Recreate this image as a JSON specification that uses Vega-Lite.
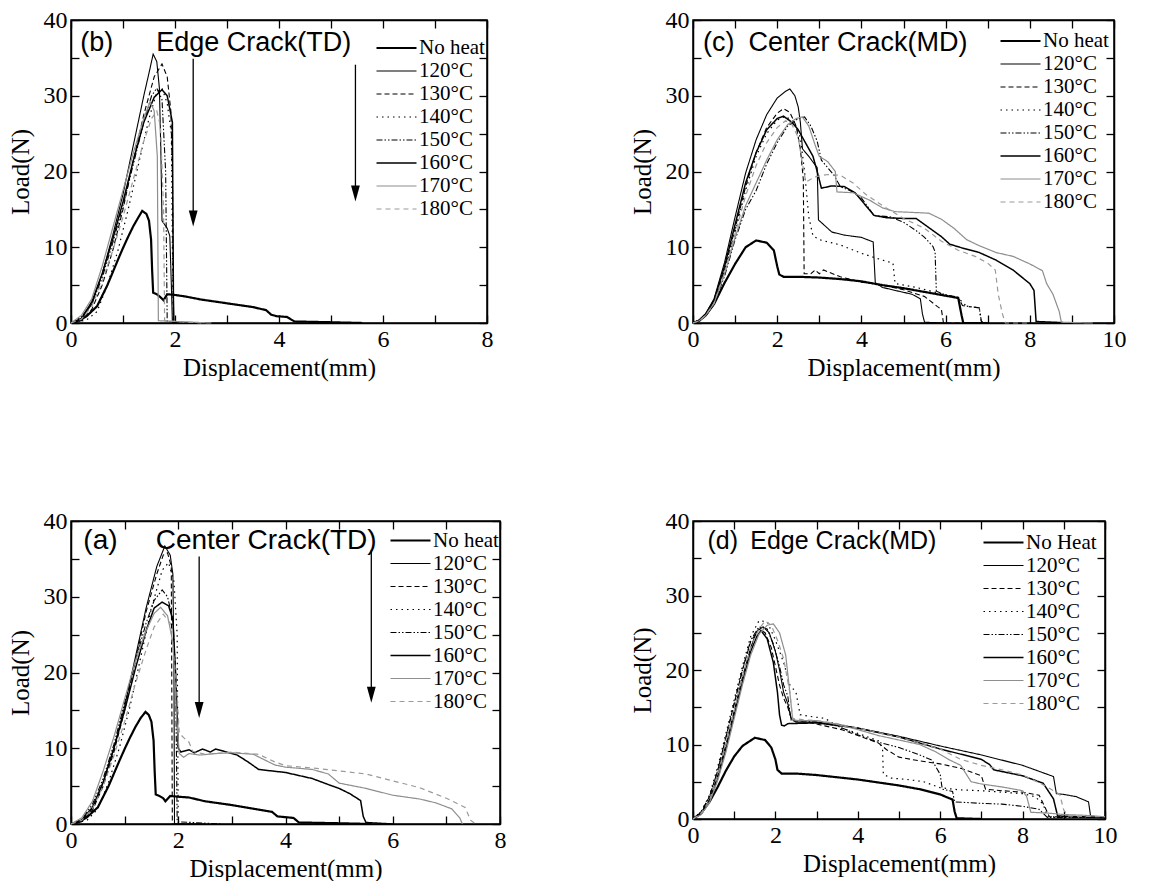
{
"$schema": "https://vega.github.io/schema/vega-lite/v6.json",
"padding": {"left": 7, "top": 7, "right": 5, "bottom": 5},
"background": "white",
"config": {
 "view": {"stroke": "black", "strokeWidth": 1.5},
 "axis": {"grid": false, "domainColor": "black", "domainWidth": 1.5, "tickColor": "black", "tickWidth": 1.3, "tickSize": -8, "labelFont": "Liberation Serif", "labelFontSize": 24, "labelColor": "black", "labelPadding": 12, "labelFlush": false, "labelOverlap": false, "titleFont": "Liberation Serif", "titleFontSize": 25, "titleFontWeight": "normal", "titleColor": "black"},
 "axisX": {"titlePadding": 4},
 "axisY": {"titlePadding": 10},
 "legend": {"orient": "none", "title": null, "symbolType": "stroke", "symbolSize": 1600, "clipHeight": 21, "labelFont": "Liberation Serif", "labelFontSize": 21, "labelColor": "black", "labelOffset": 1, "rowPadding": 1, "padding": 0}
},
"datasets": {
 "b": [
  {"s":"No heat","x":0,"y":0},{"s":"No heat","x":0.15,"y":0.3},{"s":"No heat","x":0.3,"y":0.9},{"s":"No heat","x":0.5,"y":2.2},{"s":"No heat","x":0.7,"y":5},{"s":"No heat","x":0.9,"y":8.3},{"s":"No heat","x":1.0,"y":9.9},{"s":"No heat","x":1.1,"y":11.4},{"s":"No heat","x":1.2,"y":12.8},{"s":"No heat","x":1.3,"y":14},{"s":"No heat","x":1.37,"y":14.8},{"s":"No heat","x":1.45,"y":14.4},{"s":"No heat","x":1.5,"y":13.5},{"s":"No heat","x":1.54,"y":11},{"s":"No heat","x":1.56,"y":7},{"s":"No heat","x":1.58,"y":4},{"s":"No heat","x":1.65,"y":3.8},{"s":"No heat","x":1.72,"y":3.4},{"s":"No heat","x":1.78,"y":3.0},{"s":"No heat","x":1.85,"y":3.8},{"s":"No heat","x":2.0,"y":3.7},{"s":"No heat","x":2.2,"y":3.5},{"s":"No heat","x":2.5,"y":3.1},{"s":"No heat","x":3.0,"y":2.6},{"s":"No heat","x":3.5,"y":2.1},{"s":"No heat","x":3.75,"y":1.7},{"s":"No heat","x":3.85,"y":1.1},{"s":"No heat","x":3.95,"y":0.9},{"s":"No heat","x":4.15,"y":0.8},{"s":"No heat","x":4.3,"y":0.2},{"s":"No heat","x":5.0,"y":0.1},{"s":"No heat","x":5.6,"y":0},
  {"s":"120°C","x":0,"y":0},{"s":"120°C","x":0.2,"y":0.5},{"s":"120°C","x":0.4,"y":2.5},{"s":"120°C","x":0.6,"y":6.5},{"s":"120°C","x":0.8,"y":11.5},{"s":"120°C","x":1.0,"y":17},{"s":"120°C","x":1.2,"y":23.5},{"s":"120°C","x":1.4,"y":30},{"s":"120°C","x":1.5,"y":33},{"s":"120°C","x":1.58,"y":35.5},{"s":"120°C","x":1.65,"y":34.5},{"s":"120°C","x":1.7,"y":31},{"s":"120°C","x":1.73,"y":22},{"s":"120°C","x":1.75,"y":13.5},{"s":"120°C","x":1.85,"y":12.5},{"s":"120°C","x":1.9,"y":11.5},{"s":"120°C","x":1.93,"y":5},{"s":"120°C","x":1.95,"y":0},{"s":"120°C","x":2.5,"y":0},
  {"s":"130°C","x":0,"y":0},{"s":"130°C","x":0.2,"y":0.3},{"s":"130°C","x":0.4,"y":1.8},{"s":"130°C","x":0.6,"y":5},{"s":"130°C","x":0.8,"y":9.5},{"s":"130°C","x":1.0,"y":15},{"s":"130°C","x":1.2,"y":21.5},{"s":"130°C","x":1.4,"y":27.5},{"s":"130°C","x":1.6,"y":32.5},{"s":"130°C","x":1.75,"y":34.2},{"s":"130°C","x":1.85,"y":32.5},{"s":"130°C","x":1.92,"y":28},{"s":"130°C","x":1.95,"y":20},{"s":"130°C","x":1.97,"y":0},{"s":"130°C","x":2.6,"y":0},
  {"s":"140°C","x":0,"y":0},{"s":"140°C","x":0.3,"y":0.4},{"s":"140°C","x":0.5,"y":1.5},{"s":"140°C","x":0.7,"y":5},{"s":"140°C","x":0.9,"y":9.5},{"s":"140°C","x":1.1,"y":15},{"s":"140°C","x":1.3,"y":21},{"s":"140°C","x":1.5,"y":27},{"s":"140°C","x":1.65,"y":30.5},{"s":"140°C","x":1.75,"y":31},{"s":"140°C","x":1.85,"y":29},{"s":"140°C","x":1.93,"y":25},{"s":"140°C","x":1.95,"y":10},{"s":"140°C","x":1.97,"y":0},
  {"s":"150°C","x":0,"y":0},{"s":"150°C","x":0.2,"y":0.8},{"s":"150°C","x":0.4,"y":2.5},{"s":"150°C","x":0.6,"y":6},{"s":"150°C","x":0.8,"y":10.5},{"s":"150°C","x":1.0,"y":15.5},{"s":"150°C","x":1.2,"y":21},{"s":"150°C","x":1.4,"y":26.5},{"s":"150°C","x":1.55,"y":30},{"s":"150°C","x":1.65,"y":31},{"s":"150°C","x":1.75,"y":29.5},{"s":"150°C","x":1.82,"y":20},{"s":"150°C","x":1.85,"y":0.2},{"s":"150°C","x":2.2,"y":0},
  {"s":"160°C","x":0,"y":0},{"s":"160°C","x":0.2,"y":0.6},{"s":"160°C","x":0.4,"y":2.8},{"s":"160°C","x":0.6,"y":6.5},{"s":"160°C","x":0.8,"y":11},{"s":"160°C","x":1.0,"y":16},{"s":"160°C","x":1.2,"y":21.5},{"s":"160°C","x":1.4,"y":26.5},{"s":"160°C","x":1.6,"y":29.8},{"s":"160°C","x":1.75,"y":30.8},{"s":"160°C","x":1.85,"y":30},{"s":"160°C","x":1.95,"y":26.5},{"s":"160°C","x":1.97,"y":3},{"s":"160°C","x":1.98,"y":0},
  {"s":"170°C","x":0,"y":0},{"s":"170°C","x":0.2,"y":1},{"s":"170°C","x":0.4,"y":3.2},{"s":"170°C","x":0.6,"y":7.5},{"s":"170°C","x":0.8,"y":12.5},{"s":"170°C","x":1.0,"y":17.5},{"s":"170°C","x":1.2,"y":22.5},{"s":"170°C","x":1.4,"y":27},{"s":"170°C","x":1.52,"y":29.2},{"s":"170°C","x":1.6,"y":28},{"s":"170°C","x":1.66,"y":22},{"s":"170°C","x":1.68,"y":0.3},{"s":"170°C","x":2.7,"y":0},
  {"s":"180°C","x":0,"y":0},{"s":"180°C","x":0.2,"y":0.5},{"s":"180°C","x":0.4,"y":2.2},{"s":"180°C","x":0.6,"y":5.5},{"s":"180°C","x":0.8,"y":9.5},{"s":"180°C","x":1.0,"y":14},{"s":"180°C","x":1.2,"y":19},{"s":"180°C","x":1.4,"y":24},{"s":"180°C","x":1.55,"y":27},{"s":"180°C","x":1.65,"y":28},{"s":"180°C","x":1.72,"y":26},{"s":"180°C","x":1.78,"y":15},{"s":"180°C","x":1.8,"y":0.3},{"s":"180°C","x":2.5,"y":0}
 ],
 "c": [
  {"s":"No heat","x":0,"y":0},{"s":"No heat","x":0.15,"y":0.3},{"s":"No heat","x":0.3,"y":1},{"s":"No heat","x":0.5,"y":2.5},{"s":"No heat","x":0.75,"y":5.3},{"s":"No heat","x":1.0,"y":7.8},{"s":"No heat","x":1.25,"y":10},{"s":"No heat","x":1.5,"y":10.9},{"s":"No heat","x":1.75,"y":10.6},{"s":"No heat","x":1.92,"y":9.6},{"s":"No heat","x":2.0,"y":7.5},{"s":"No heat","x":2.05,"y":6.4},{"s":"No heat","x":2.15,"y":6.1},{"s":"No heat","x":2.5,"y":6.1},{"s":"No heat","x":3.0,"y":6.0},{"s":"No heat","x":3.5,"y":5.8},{"s":"No heat","x":4.0,"y":5.5},{"s":"No heat","x":4.5,"y":5.0},{"s":"No heat","x":5.0,"y":4.6},{"s":"No heat","x":5.5,"y":4.1},{"s":"No heat","x":6.0,"y":3.6},{"s":"No heat","x":6.3,"y":3.3},{"s":"No heat","x":6.38,"y":1},{"s":"No heat","x":6.42,"y":0},{"s":"No heat","x":7.0,"y":0},
  {"s":"120°C","x":0,"y":0},{"s":"120°C","x":0.15,"y":0.4},{"s":"120°C","x":0.3,"y":1.2},{"s":"120°C","x":0.5,"y":3.2},{"s":"120°C","x":0.75,"y":8},{"s":"120°C","x":1.0,"y":14},{"s":"120°C","x":1.25,"y":19.8},{"s":"120°C","x":1.5,"y":24.2},{"s":"120°C","x":1.75,"y":27.5},{"s":"120°C","x":2.0,"y":29.7},{"s":"120°C","x":2.2,"y":30.6},{"s":"120°C","x":2.3,"y":30.9},{"s":"120°C","x":2.42,"y":30},{"s":"120°C","x":2.5,"y":28.5},{"s":"120°C","x":2.55,"y":26.5},{"s":"120°C","x":2.6,"y":23},{"s":"120°C","x":2.75,"y":22},{"s":"120°C","x":2.95,"y":20.5},{"s":"120°C","x":2.98,"y":13.6},{"s":"120°C","x":3.1,"y":13},{"s":"120°C","x":3.3,"y":12},{"s":"120°C","x":3.6,"y":11.6},{"s":"120°C","x":4.0,"y":11.3},{"s":"120°C","x":4.28,"y":10.7},{"s":"120°C","x":4.33,"y":5.3},{"s":"120°C","x":4.5,"y":4.7},{"s":"120°C","x":4.8,"y":4.3},{"s":"120°C","x":5.2,"y":3.8},{"s":"120°C","x":5.4,"y":3.2},{"s":"120°C","x":5.45,"y":1.2},{"s":"120°C","x":5.5,"y":0.1},{"s":"120°C","x":6.0,"y":0},
  {"s":"130°C","x":0,"y":0},{"s":"130°C","x":0.15,"y":0.3},{"s":"130°C","x":0.3,"y":1},{"s":"130°C","x":0.5,"y":2.8},{"s":"130°C","x":0.75,"y":7},{"s":"130°C","x":1.0,"y":12.5},{"s":"130°C","x":1.25,"y":18},{"s":"130°C","x":1.5,"y":22.5},{"s":"130°C","x":1.75,"y":25.8},{"s":"130°C","x":2.0,"y":27.7},{"s":"130°C","x":2.15,"y":28.3},{"s":"130°C","x":2.3,"y":27.8},{"s":"130°C","x":2.45,"y":26},{"s":"130°C","x":2.55,"y":23},{"s":"130°C","x":2.62,"y":19},{"s":"130°C","x":2.64,"y":6.5},{"s":"130°C","x":2.8,"y":6.5},{"s":"130°C","x":2.9,"y":7},{"s":"130°C","x":3.0,"y":6.5},{"s":"130°C","x":3.1,"y":7},{"s":"130°C","x":3.5,"y":6.1},{"s":"130°C","x":4.0,"y":5.4},{"s":"130°C","x":4.5,"y":5.0},{"s":"130°C","x":5.0,"y":4.4},{"s":"130°C","x":5.5,"y":3.5},{"s":"130°C","x":5.8,"y":2.2},{"s":"130°C","x":5.9,"y":1.8},{"s":"130°C","x":5.95,"y":0},{"s":"130°C","x":6.5,"y":0},
  {"s":"140°C","x":0,"y":0},{"s":"140°C","x":0.15,"y":0.3},{"s":"140°C","x":0.3,"y":1},{"s":"140°C","x":0.5,"y":2.7},{"s":"140°C","x":0.75,"y":6.8},{"s":"140°C","x":1.0,"y":12},{"s":"140°C","x":1.25,"y":17.5},{"s":"140°C","x":1.5,"y":22},{"s":"140°C","x":1.75,"y":25},{"s":"140°C","x":2.0,"y":26.8},{"s":"140°C","x":2.2,"y":27.3},{"s":"140°C","x":2.4,"y":26.5},{"s":"140°C","x":2.55,"y":24.5},{"s":"140°C","x":2.65,"y":20},{"s":"140°C","x":2.75,"y":14},{"s":"140°C","x":2.85,"y":11.5},{"s":"140°C","x":3.0,"y":11},{"s":"140°C","x":3.5,"y":10.3},{"s":"140°C","x":4.0,"y":9.2},{"s":"140°C","x":4.5,"y":8.3},{"s":"140°C","x":4.75,"y":7.9},{"s":"140°C","x":4.8,"y":5.2},{"s":"140°C","x":5.3,"y":4.7},{"s":"140°C","x":5.8,"y":4.0},{"s":"140°C","x":6.3,"y":3.3},{"s":"140°C","x":6.5,"y":2.2},{"s":"140°C","x":6.8,"y":2.0},{"s":"140°C","x":6.85,"y":0},{"s":"140°C","x":7.0,"y":0},
  {"s":"150°C","x":0,"y":0},{"s":"150°C","x":0.15,"y":0.3},{"s":"150°C","x":0.3,"y":0.9},{"s":"150°C","x":0.5,"y":2.5},{"s":"150°C","x":0.75,"y":6.2},{"s":"150°C","x":1.0,"y":11},{"s":"150°C","x":1.25,"y":15},{"s":"150°C","x":1.5,"y":17.5},{"s":"150°C","x":1.75,"y":21},{"s":"150°C","x":2.0,"y":23.8},{"s":"150°C","x":2.25,"y":26},{"s":"150°C","x":2.5,"y":27},{"s":"150°C","x":2.65,"y":27.2},{"s":"150°C","x":2.8,"y":26},{"s":"150°C","x":2.95,"y":24},{"s":"150°C","x":3.05,"y":21.5},{"s":"150°C","x":3.2,"y":20.5},{"s":"150°C","x":3.35,"y":19.5},{"s":"150°C","x":3.5,"y":18},{"s":"150°C","x":3.8,"y":17.3},{"s":"150°C","x":4.0,"y":16.5},{"s":"150°C","x":4.3,"y":14.2},{"s":"150°C","x":4.7,"y":14.0},{"s":"150°C","x":5.0,"y":13.3},{"s":"150°C","x":5.3,"y":12.2},{"s":"150°C","x":5.5,"y":11.3},{"s":"150°C","x":5.7,"y":10.1},{"s":"150°C","x":5.75,"y":9.4},{"s":"150°C","x":5.78,"y":4.2},{"s":"150°C","x":6.0,"y":3.7},{"s":"150°C","x":6.3,"y":3.4},{"s":"150°C","x":6.4,"y":2.3},{"s":"150°C","x":6.8,"y":2.0},{"s":"150°C","x":6.85,"y":0.2},{"s":"150°C","x":7.0,"y":0},
  {"s":"160°C","x":0,"y":0},{"s":"160°C","x":0.15,"y":0.4},{"s":"160°C","x":0.3,"y":1.2},{"s":"160°C","x":0.5,"y":3},{"s":"160°C","x":0.75,"y":7.5},{"s":"160°C","x":1.0,"y":13},{"s":"160°C","x":1.25,"y":18.5},{"s":"160°C","x":1.5,"y":22.5},{"s":"160°C","x":1.75,"y":25.5},{"s":"160°C","x":2.0,"y":27},{"s":"160°C","x":2.15,"y":27.3},{"s":"160°C","x":2.35,"y":26.5},{"s":"160°C","x":2.5,"y":25.5},{"s":"160°C","x":2.7,"y":23.5},{"s":"160°C","x":2.85,"y":22},{"s":"160°C","x":2.95,"y":20},{"s":"160°C","x":3.05,"y":17.8},{"s":"160°C","x":3.3,"y":18.1},{"s":"160°C","x":3.6,"y":18},{"s":"160°C","x":3.85,"y":17.2},{"s":"160°C","x":4.0,"y":16.2},{"s":"160°C","x":4.3,"y":14.2},{"s":"160°C","x":4.6,"y":13.9},{"s":"160°C","x":5.0,"y":13.8},{"s":"160°C","x":5.3,"y":13.8},{"s":"160°C","x":5.6,"y":12.6},{"s":"160°C","x":5.9,"y":11.4},{"s":"160°C","x":6.1,"y":10.4},{"s":"160°C","x":6.4,"y":9.9},{"s":"160°C","x":6.8,"y":9.3},{"s":"160°C","x":7.2,"y":8.3},{"s":"160°C","x":7.6,"y":7.0},{"s":"160°C","x":8.0,"y":5.2},{"s":"160°C","x":8.1,"y":4.3},{"s":"160°C","x":8.15,"y":0.2},{"s":"160°C","x":9.0,"y":0},
  {"s":"170°C","x":0,"y":0},{"s":"170°C","x":0.15,"y":0.3},{"s":"170°C","x":0.3,"y":1},{"s":"170°C","x":0.5,"y":2.6},{"s":"170°C","x":0.75,"y":6.5},{"s":"170°C","x":1.0,"y":11.3},{"s":"170°C","x":1.25,"y":15.5},{"s":"170°C","x":1.5,"y":18.5},{"s":"170°C","x":1.75,"y":21.5},{"s":"170°C","x":2.0,"y":24.2},{"s":"170°C","x":2.25,"y":26.2},{"s":"170°C","x":2.45,"y":27},{"s":"170°C","x":2.6,"y":27.2},{"s":"170°C","x":2.75,"y":26},{"s":"170°C","x":2.9,"y":23.5},{"s":"170°C","x":3.0,"y":22},{"s":"170°C","x":3.2,"y":21.3},{"s":"170°C","x":3.38,"y":20},{"s":"170°C","x":3.42,"y":17.3},{"s":"170°C","x":3.8,"y":17.2},{"s":"170°C","x":4.2,"y":16.2},{"s":"170°C","x":4.5,"y":15.2},{"s":"170°C","x":4.8,"y":14.7},{"s":"170°C","x":5.2,"y":14.6},{"s":"170°C","x":5.6,"y":14.5},{"s":"170°C","x":5.9,"y":13.7},{"s":"170°C","x":6.2,"y":12.5},{"s":"170°C","x":6.5,"y":11},{"s":"170°C","x":6.8,"y":10.2},{"s":"170°C","x":7.2,"y":9.3},{"s":"170°C","x":7.6,"y":8.8},{"s":"170°C","x":8.0,"y":7.8},{"s":"170°C","x":8.3,"y":6.9},{"s":"170°C","x":8.4,"y":5.2},{"s":"170°C","x":8.55,"y":3.8},{"s":"170°C","x":8.7,"y":1.5},{"s":"170°C","x":8.75,"y":0.1},{"s":"170°C","x":9.5,"y":0},
  {"s":"180°C","x":0,"y":0},{"s":"180°C","x":0.15,"y":0.3},{"s":"180°C","x":0.3,"y":1},{"s":"180°C","x":0.5,"y":2.6},{"s":"180°C","x":0.75,"y":6.6},{"s":"180°C","x":1.0,"y":11.8},{"s":"180°C","x":1.25,"y":16.8},{"s":"180°C","x":1.5,"y":20.8},{"s":"180°C","x":1.75,"y":23.8},{"s":"180°C","x":2.0,"y":25.8},{"s":"180°C","x":2.2,"y":26.7},{"s":"180°C","x":2.35,"y":26.2},{"s":"180°C","x":2.5,"y":24.5},{"s":"180°C","x":2.6,"y":21},{"s":"180°C","x":2.68,"y":18.6},{"s":"180°C","x":2.9,"y":19.3},{"s":"180°C","x":3.2,"y":19.6},{"s":"180°C","x":3.5,"y":19.5},{"s":"180°C","x":3.8,"y":18.5},{"s":"180°C","x":4.1,"y":17},{"s":"180°C","x":4.5,"y":15.5},{"s":"180°C","x":5.0,"y":13.8},{"s":"180°C","x":5.5,"y":12.5},{"s":"180°C","x":5.9,"y":10.8},{"s":"180°C","x":6.3,"y":9.6},{"s":"180°C","x":6.7,"y":8.8},{"s":"180°C","x":7.0,"y":7.9},{"s":"180°C","x":7.18,"y":7.0},{"s":"180°C","x":7.25,"y":3.8},{"s":"180°C","x":7.35,"y":1.2},{"s":"180°C","x":7.42,"y":0},{"s":"180°C","x":8.0,"y":0}
 ],
 "a": [
  {"s":"No heat","x":0,"y":0},{"s":"No heat","x":0.15,"y":0.3},{"s":"No heat","x":0.3,"y":0.9},{"s":"No heat","x":0.5,"y":2.2},{"s":"No heat","x":0.7,"y":5},{"s":"No heat","x":0.9,"y":8.3},{"s":"No heat","x":1.0,"y":9.9},{"s":"No heat","x":1.1,"y":11.4},{"s":"No heat","x":1.2,"y":12.8},{"s":"No heat","x":1.3,"y":14},{"s":"No heat","x":1.39,"y":14.8},{"s":"No heat","x":1.45,"y":14.4},{"s":"No heat","x":1.5,"y":13.5},{"s":"No heat","x":1.54,"y":11},{"s":"No heat","x":1.56,"y":7},{"s":"No heat","x":1.58,"y":3.9},{"s":"No heat","x":1.65,"y":3.7},{"s":"No heat","x":1.72,"y":3.4},{"s":"No heat","x":1.76,"y":3.0},{"s":"No heat","x":1.85,"y":3.7},{"s":"No heat","x":2.0,"y":3.6},{"s":"No heat","x":2.2,"y":3.5},{"s":"No heat","x":2.5,"y":3.0},{"s":"No heat","x":3.0,"y":2.5},{"s":"No heat","x":3.5,"y":1.9},{"s":"No heat","x":3.75,"y":1.6},{"s":"No heat","x":3.85,"y":1.0},{"s":"No heat","x":4.0,"y":0.9},{"s":"No heat","x":4.15,"y":0.8},{"s":"No heat","x":4.25,"y":0.2},{"s":"No heat","x":5.0,"y":0.1},{"s":"No heat","x":5.6,"y":0},
  {"s":"120°C","x":0,"y":0},{"s":"120°C","x":0.2,"y":0.5},{"s":"120°C","x":0.4,"y":2},{"s":"120°C","x":0.6,"y":5.5},{"s":"120°C","x":0.8,"y":10},{"s":"120°C","x":1.0,"y":15.5},{"s":"120°C","x":1.2,"y":22},{"s":"120°C","x":1.4,"y":28.5},{"s":"120°C","x":1.6,"y":34},{"s":"120°C","x":1.75,"y":36.7},{"s":"120°C","x":1.85,"y":35.5},{"s":"120°C","x":1.9,"y":33},{"s":"120°C","x":1.92,"y":20},{"s":"120°C","x":1.93,"y":0},{"s":"120°C","x":2.5,"y":0},
  {"s":"130°C","x":0,"y":0},{"s":"130°C","x":0.2,"y":0.3},{"s":"130°C","x":0.4,"y":1.8},{"s":"130°C","x":0.6,"y":5},{"s":"130°C","x":0.8,"y":9.5},{"s":"130°C","x":1.0,"y":15},{"s":"130°C","x":1.2,"y":21.5},{"s":"130°C","x":1.4,"y":28},{"s":"130°C","x":1.6,"y":33},{"s":"130°C","x":1.72,"y":35.5},{"s":"130°C","x":1.8,"y":35.8},{"s":"130°C","x":1.87,"y":34},{"s":"130°C","x":1.89,"y":0},{"s":"130°C","x":2.4,"y":0},
  {"s":"140°C","x":0,"y":0},{"s":"140°C","x":0.3,"y":0.5},{"s":"140°C","x":0.5,"y":2},{"s":"140°C","x":0.7,"y":5.5},{"s":"140°C","x":0.9,"y":10},{"s":"140°C","x":1.1,"y":15.5},{"s":"140°C","x":1.3,"y":22},{"s":"140°C","x":1.5,"y":28.5},{"s":"140°C","x":1.7,"y":33.5},{"s":"140°C","x":1.82,"y":34.5},{"s":"140°C","x":1.92,"y":32},{"s":"140°C","x":1.98,"y":25},{"s":"140°C","x":2.0,"y":0},{"s":"140°C","x":2.4,"y":0},
  {"s":"150°C","x":0,"y":0},{"s":"150°C","x":0.2,"y":0.6},{"s":"150°C","x":0.4,"y":2.6},{"s":"150°C","x":0.6,"y":6},{"s":"150°C","x":0.8,"y":10.5},{"s":"150°C","x":1.0,"y":16},{"s":"150°C","x":1.2,"y":21.5},{"s":"150°C","x":1.4,"y":26.5},{"s":"150°C","x":1.55,"y":29.5},{"s":"150°C","x":1.7,"y":30.9},{"s":"150°C","x":1.8,"y":30},{"s":"150°C","x":1.9,"y":27},{"s":"150°C","x":1.95,"y":20},{"s":"150°C","x":1.98,"y":0.3},{"s":"150°C","x":2.8,"y":0},
  {"s":"160°C","x":0,"y":0},{"s":"160°C","x":0.2,"y":0.5},{"s":"160°C","x":0.4,"y":2.2},{"s":"160°C","x":0.6,"y":5.5},{"s":"160°C","x":0.8,"y":10},{"s":"160°C","x":1.0,"y":15},{"s":"160°C","x":1.2,"y":20.5},{"s":"160°C","x":1.4,"y":25.5},{"s":"160°C","x":1.55,"y":28.5},{"s":"160°C","x":1.7,"y":29.3},{"s":"160°C","x":1.82,"y":28.8},{"s":"160°C","x":1.9,"y":27},{"s":"160°C","x":1.95,"y":20},{"s":"160°C","x":2.0,"y":10},{"s":"160°C","x":2.05,"y":9.5},{"s":"160°C","x":2.2,"y":9.8},{"s":"160°C","x":2.3,"y":9.4},{"s":"160°C","x":2.45,"y":9.9},{"s":"160°C","x":2.6,"y":9.5},{"s":"160°C","x":2.7,"y":9.9},{"s":"160°C","x":2.9,"y":9.5},{"s":"160°C","x":3.1,"y":9.1},{"s":"160°C","x":3.3,"y":8.2},{"s":"160°C","x":3.5,"y":7.2},{"s":"160°C","x":4.0,"y":6.8},{"s":"160°C","x":4.5,"y":6.0},{"s":"160°C","x":4.8,"y":5.2},{"s":"160°C","x":5.0,"y":4.7},{"s":"160°C","x":5.2,"y":4.0},{"s":"160°C","x":5.4,"y":3.1},{"s":"160°C","x":5.45,"y":1},{"s":"160°C","x":5.5,"y":0.2},{"s":"160°C","x":6.0,"y":0},
  {"s":"170°C","x":0,"y":0},{"s":"170°C","x":0.2,"y":0.8},{"s":"170°C","x":0.4,"y":3},{"s":"170°C","x":0.6,"y":7},{"s":"170°C","x":0.8,"y":11.5},{"s":"170°C","x":1.0,"y":16.5},{"s":"170°C","x":1.2,"y":21.5},{"s":"170°C","x":1.4,"y":25.5},{"s":"170°C","x":1.55,"y":27.8},{"s":"170°C","x":1.67,"y":28.6},{"s":"170°C","x":1.8,"y":27.5},{"s":"170°C","x":1.9,"y":24},{"s":"170°C","x":1.97,"y":14},{"s":"170°C","x":2.02,"y":9.3},{"s":"170°C","x":2.1,"y":8.8},{"s":"170°C","x":2.2,"y":9.3},{"s":"170°C","x":2.4,"y":9.1},{"s":"170°C","x":2.7,"y":9.3},{"s":"170°C","x":3.0,"y":9.4},{"s":"170°C","x":3.4,"y":9.2},{"s":"170°C","x":3.6,"y":8.5},{"s":"170°C","x":3.8,"y":7.8},{"s":"170°C","x":4.0,"y":7.5},{"s":"170°C","x":4.5,"y":7.2},{"s":"170°C","x":4.8,"y":6.6},{"s":"170°C","x":5.0,"y":5.4},{"s":"170°C","x":5.5,"y":4.7},{"s":"170°C","x":6.0,"y":3.8},{"s":"170°C","x":6.5,"y":3.3},{"s":"170°C","x":6.8,"y":2.8},{"s":"170°C","x":7.1,"y":2.0},{"s":"170°C","x":7.25,"y":0.8},{"s":"170°C","x":7.3,"y":0},
  {"s":"180°C","x":0,"y":0},{"s":"180°C","x":0.2,"y":0.5},{"s":"180°C","x":0.4,"y":2},{"s":"180°C","x":0.6,"y":5},{"s":"180°C","x":0.8,"y":9},{"s":"180°C","x":1.0,"y":13.5},{"s":"180°C","x":1.2,"y":18.5},{"s":"180°C","x":1.4,"y":23},{"s":"180°C","x":1.55,"y":26},{"s":"180°C","x":1.72,"y":27.7},{"s":"180°C","x":1.85,"y":26.5},{"s":"180°C","x":1.95,"y":20},{"s":"180°C","x":2.02,"y":12},{"s":"180°C","x":2.1,"y":11.4},{"s":"180°C","x":2.2,"y":10.8},{"s":"180°C","x":2.27,"y":9.6},{"s":"180°C","x":2.5,"y":9.2},{"s":"180°C","x":3.0,"y":9.5},{"s":"180°C","x":3.5,"y":9.2},{"s":"180°C","x":3.8,"y":8.2},{"s":"180°C","x":4.0,"y":7.7},{"s":"180°C","x":4.5,"y":7.4},{"s":"180°C","x":5.0,"y":7.0},{"s":"180°C","x":5.5,"y":6.6},{"s":"180°C","x":6.0,"y":5.7},{"s":"180°C","x":6.5,"y":4.8},{"s":"180°C","x":7.0,"y":3.4},{"s":"180°C","x":7.35,"y":2.2},{"s":"180°C","x":7.45,"y":0.5},{"s":"180°C","x":7.55,"y":0}
 ],
 "d": [
  {"s":"No Heat","x":0,"y":0},{"s":"No Heat","x":0.2,"y":0.8},{"s":"No Heat","x":0.4,"y":2.3},{"s":"No Heat","x":0.6,"y":4.3},{"s":"No Heat","x":0.8,"y":6.5},{"s":"No Heat","x":1.0,"y":8.4},{"s":"No Heat","x":1.2,"y":9.8},{"s":"No Heat","x":1.5,"y":10.9},{"s":"No Heat","x":1.75,"y":10.6},{"s":"No Heat","x":1.9,"y":9.6},{"s":"No Heat","x":2.0,"y":8},{"s":"No Heat","x":2.05,"y":6.6},{"s":"No Heat","x":2.15,"y":6.1},{"s":"No Heat","x":2.5,"y":6.1},{"s":"No Heat","x":3.0,"y":5.9},{"s":"No Heat","x":3.5,"y":5.6},{"s":"No Heat","x":4.0,"y":5.3},{"s":"No Heat","x":4.5,"y":4.9},{"s":"No Heat","x":5.0,"y":4.5},{"s":"No Heat","x":5.5,"y":4.0},{"s":"No Heat","x":6.0,"y":3.3},{"s":"No Heat","x":6.3,"y":2.6},{"s":"No Heat","x":6.35,"y":1.0},{"s":"No Heat","x":6.4,"y":0.1},{"s":"No Heat","x":7.0,"y":0},
  {"s":"120°C","x":0,"y":0},{"s":"120°C","x":0.2,"y":0.8},{"s":"120°C","x":0.4,"y":2.6},{"s":"120°C","x":0.6,"y":5.8},{"s":"120°C","x":0.8,"y":10},{"s":"120°C","x":1.0,"y":14.5},{"s":"120°C","x":1.2,"y":19},{"s":"120°C","x":1.4,"y":23},{"s":"120°C","x":1.55,"y":25.2},{"s":"120°C","x":1.7,"y":25.8},{"s":"120°C","x":1.85,"y":25},{"s":"120°C","x":2.0,"y":22.5},{"s":"120°C","x":2.1,"y":20},{"s":"120°C","x":2.2,"y":17},{"s":"120°C","x":2.3,"y":15.5},{"s":"120°C","x":2.38,"y":13.5},{"s":"120°C","x":2.5,"y":13},{"s":"120°C","x":3.0,"y":13},{"s":"120°C","x":3.5,"y":12.7},{"s":"120°C","x":4.0,"y":12.2},{"s":"120°C","x":5.0,"y":11.1},{"s":"120°C","x":6.0,"y":9.8},{"s":"120°C","x":7.0,"y":8.6},{"s":"120°C","x":8.0,"y":7.2},{"s":"120°C","x":8.75,"y":5.7},{"s":"120°C","x":8.82,"y":3.4},{"s":"120°C","x":9.0,"y":3.3},{"s":"120°C","x":9.3,"y":3.0},{"s":"120°C","x":9.6,"y":2.3},{"s":"120°C","x":9.65,"y":0.4},{"s":"120°C","x":10,"y":0.2},
  {"s":"130°C","x":0,"y":0},{"s":"130°C","x":0.2,"y":1},{"s":"130°C","x":0.4,"y":3},{"s":"130°C","x":0.6,"y":6.5},{"s":"130°C","x":0.8,"y":11},{"s":"130°C","x":1.0,"y":15.5},{"s":"130°C","x":1.2,"y":20},{"s":"130°C","x":1.4,"y":23.8},{"s":"130°C","x":1.6,"y":25.5},{"s":"130°C","x":1.75,"y":25},{"s":"130°C","x":1.9,"y":23},{"s":"130°C","x":2.0,"y":20.5},{"s":"130°C","x":2.1,"y":18},{"s":"130°C","x":2.2,"y":16.2},{"s":"130°C","x":2.3,"y":15},{"s":"130°C","x":2.4,"y":13.2},{"s":"130°C","x":2.8,"y":13},{"s":"130°C","x":3.2,"y":12.5},{"s":"130°C","x":3.6,"y":12},{"s":"130°C","x":4.0,"y":11.2},{"s":"130°C","x":4.5,"y":10.2},{"s":"130°C","x":4.7,"y":9.3},{"s":"130°C","x":5.0,"y":8.3},{"s":"130°C","x":5.5,"y":7.8},{"s":"130°C","x":6.0,"y":7.4},{"s":"130°C","x":6.5,"y":6.8},{"s":"130°C","x":7.0,"y":5.8},{"s":"130°C","x":7.1,"y":4.0},{"s":"130°C","x":7.5,"y":3.8},{"s":"130°C","x":8.0,"y":3.6},{"s":"130°C","x":8.4,"y":3.2},{"s":"130°C","x":8.55,"y":1.5},{"s":"130°C","x":8.65,"y":0.3},{"s":"130°C","x":10,"y":0.2},
  {"s":"140°C","x":0,"y":0},{"s":"140°C","x":0.2,"y":1},{"s":"140°C","x":0.4,"y":3.2},{"s":"140°C","x":0.6,"y":7},{"s":"140°C","x":0.8,"y":11.5},{"s":"140°C","x":1.0,"y":16},{"s":"140°C","x":1.2,"y":20.5},{"s":"140°C","x":1.4,"y":24.5},{"s":"140°C","x":1.6,"y":26.6},{"s":"140°C","x":1.8,"y":26.5},{"s":"140°C","x":2.0,"y":24},{"s":"140°C","x":2.2,"y":21},{"s":"140°C","x":2.35,"y":18},{"s":"140°C","x":2.5,"y":17},{"s":"140°C","x":2.6,"y":14},{"s":"140°C","x":2.8,"y":13.8},{"s":"140°C","x":3.2,"y":13.5},{"s":"140°C","x":3.6,"y":12.2},{"s":"140°C","x":4.0,"y":11.5},{"s":"140°C","x":4.5,"y":10.5},{"s":"140°C","x":4.6,"y":9.5},{"s":"140°C","x":4.62,"y":6},{"s":"140°C","x":4.8,"y":5.5},{"s":"140°C","x":5.2,"y":5.3},{"s":"140°C","x":5.6,"y":5.0},{"s":"140°C","x":6.0,"y":4.2},{"s":"140°C","x":6.5,"y":3.9},{"s":"140°C","x":7.0,"y":3.8},{"s":"140°C","x":7.5,"y":3.6},{"s":"140°C","x":8.0,"y":3.4},{"s":"140°C","x":8.3,"y":3.0},{"s":"140°C","x":8.5,"y":2.0},{"s":"140°C","x":8.6,"y":0.3},{"s":"140°C","x":10,"y":0.2},
  {"s":"150°C","x":0,"y":0},{"s":"150°C","x":0.2,"y":0.9},{"s":"150°C","x":0.4,"y":3},{"s":"150°C","x":0.6,"y":6.5},{"s":"150°C","x":0.8,"y":11},{"s":"150°C","x":1.0,"y":15.5},{"s":"150°C","x":1.2,"y":20},{"s":"150°C","x":1.4,"y":24},{"s":"150°C","x":1.6,"y":25.8},{"s":"150°C","x":1.8,"y":25.5},{"s":"150°C","x":1.95,"y":23.5},{"s":"150°C","x":2.1,"y":20.5},{"s":"150°C","x":2.2,"y":18},{"s":"150°C","x":2.3,"y":16.5},{"s":"150°C","x":2.38,"y":13.3},{"s":"150°C","x":2.6,"y":13.2},{"s":"150°C","x":3.0,"y":13.0},{"s":"150°C","x":3.5,"y":12.5},{"s":"150°C","x":4.0,"y":11.3},{"s":"150°C","x":4.5,"y":10.3},{"s":"150°C","x":5.0,"y":9.6},{"s":"150°C","x":5.5,"y":8.6},{"s":"150°C","x":5.8,"y":7.9},{"s":"150°C","x":6.0,"y":6},{"s":"150°C","x":6.05,"y":4.0},{"s":"150°C","x":6.3,"y":3.7},{"s":"150°C","x":6.35,"y":2.3},{"s":"150°C","x":7.0,"y":2.1},{"s":"150°C","x":7.5,"y":2.0},{"s":"150°C","x":8.0,"y":1.7},{"s":"150°C","x":8.4,"y":1.3},{"s":"150°C","x":8.6,"y":0.2},{"s":"150°C","x":10,"y":0.2},
  {"s":"160°C","x":0,"y":0},{"s":"160°C","x":0.2,"y":0.7},{"s":"160°C","x":0.4,"y":2.4},{"s":"160°C","x":0.6,"y":5.5},{"s":"160°C","x":0.8,"y":9.5},{"s":"160°C","x":1.0,"y":14},{"s":"160°C","x":1.2,"y":18.5},{"s":"160°C","x":1.4,"y":22.5},{"s":"160°C","x":1.55,"y":24.5},{"s":"160°C","x":1.65,"y":25.3},{"s":"160°C","x":1.8,"y":24.2},{"s":"160°C","x":1.95,"y":21},{"s":"160°C","x":2.05,"y":17},{"s":"160°C","x":2.1,"y":14},{"s":"160°C","x":2.15,"y":12.6},{"s":"160°C","x":2.22,"y":12.5},{"s":"160°C","x":2.3,"y":12.8},{"s":"160°C","x":3.0,"y":12.9},{"s":"160°C","x":4.0,"y":12.2},{"s":"160°C","x":5.0,"y":11.0},{"s":"160°C","x":6.0,"y":9.4},{"s":"160°C","x":7.0,"y":8.0},{"s":"160°C","x":7.2,"y":7.3},{"s":"160°C","x":7.3,"y":6.6},{"s":"160°C","x":8.0,"y":5.8},{"s":"160°C","x":8.5,"y":4.8},{"s":"160°C","x":8.75,"y":2.7},{"s":"160°C","x":8.85,"y":0.4},{"s":"160°C","x":10,"y":0.2},
  {"s":"170°C","x":0,"y":0},{"s":"170°C","x":0.2,"y":0.6},{"s":"170°C","x":0.4,"y":2.2},{"s":"170°C","x":0.6,"y":5.2},{"s":"170°C","x":0.8,"y":9},{"s":"170°C","x":1.0,"y":13.5},{"s":"170°C","x":1.2,"y":18},{"s":"170°C","x":1.4,"y":22},{"s":"170°C","x":1.6,"y":24.8},{"s":"170°C","x":1.8,"y":26},{"s":"170°C","x":1.95,"y":26.2},{"s":"170°C","x":2.1,"y":25},{"s":"170°C","x":2.25,"y":22},{"s":"170°C","x":2.35,"y":17},{"s":"170°C","x":2.42,"y":13.3},{"s":"170°C","x":2.6,"y":13.2},{"s":"170°C","x":3.0,"y":13.2},{"s":"170°C","x":3.5,"y":12.7},{"s":"170°C","x":4.0,"y":12.0},{"s":"170°C","x":4.5,"y":11.2},{"s":"170°C","x":5.0,"y":10.6},{"s":"170°C","x":5.5,"y":10.0},{"s":"170°C","x":5.9,"y":9.0},{"s":"170°C","x":6.2,"y":8.0},{"s":"170°C","x":6.5,"y":7.2},{"s":"170°C","x":6.6,"y":6.3},{"s":"170°C","x":6.75,"y":5.0},{"s":"170°C","x":7.0,"y":4.7},{"s":"170°C","x":7.5,"y":4.3},{"s":"170°C","x":8.0,"y":3.8},{"s":"170°C","x":8.1,"y":3.0},{"s":"170°C","x":8.2,"y":0.9},{"s":"170°C","x":8.6,"y":0.8},{"s":"170°C","x":9.0,"y":0.6},{"s":"170°C","x":9.5,"y":0.5},{"s":"170°C","x":10,"y":0.3},
  {"s":"180°C","x":0,"y":0},{"s":"180°C","x":0.2,"y":0.8},{"s":"180°C","x":0.4,"y":2.5},{"s":"180°C","x":0.6,"y":5.8},{"s":"180°C","x":0.8,"y":10},{"s":"180°C","x":1.0,"y":14.5},{"s":"180°C","x":1.2,"y":19},{"s":"180°C","x":1.4,"y":23},{"s":"180°C","x":1.6,"y":25.5},{"s":"180°C","x":1.75,"y":26.6},{"s":"180°C","x":1.9,"y":26},{"s":"180°C","x":2.05,"y":24},{"s":"180°C","x":2.2,"y":21.5},{"s":"180°C","x":2.35,"y":17},{"s":"180°C","x":2.42,"y":13.5},{"s":"180°C","x":2.7,"y":13.3},{"s":"180°C","x":3.0,"y":13.2},{"s":"180°C","x":3.5,"y":12.8},{"s":"180°C","x":4.0,"y":12.2},{"s":"180°C","x":5.0,"y":11.0},{"s":"180°C","x":6.0,"y":9.4},{"s":"180°C","x":6.5,"y":8.0},{"s":"180°C","x":7.0,"y":7.2},{"s":"180°C","x":7.5,"y":6.6},{"s":"180°C","x":8.0,"y":5.9},{"s":"180°C","x":8.5,"y":4.6},{"s":"180°C","x":8.9,"y":3.3},{"s":"180°C","x":9.0,"y":1.2},{"s":"180°C","x":9.1,"y":0.4},{"s":"180°C","x":10,"y":0.3}
 ]
},
"bounds": "flush",
"columns": 2,
"spacing": {"row": 198, "column": 193},
"resolve": {"scale": {"color": "independent", "strokeDash": "independent", "strokeWidth": "independent"}, "legend": {"color": "independent", "strokeDash": "independent", "strokeWidth": "independent"}},
"concat": [
   {
    "width": 416, "height": 303,
    "layer": [
     {
      "data": {"name": "b"},
      "mark": {"type": "line"},
      "encoding": {
       "x": {"field": "x", "type": "quantitative", "scale": {"domain": [0, 8], "nice": false, "zero": false}, "axis": {"orient": "bottom", "values": [0,1,2,3,4,5,6,7,8], "labelExpr": "datum.value % 2 === 0 ? datum.label : ''", "title": "Displacement(mm)"}},
       "y": {"field": "y", "type": "quantitative", "scale": {"domain": [0, 40], "nice": false}, "axis": {"orient": "left", "values": [0,5,10,15,20,25,30,35,40], "labelExpr": "datum.value % 10 === 0 ? datum.label : ''", "title": "Load(N)"}},
       "color": {"field": "s", "type": "nominal", "scale": {"domain": ["No heat","120°C","130°C","140°C","150°C","160°C","170°C","180°C"], "range": ["black","black","black","black","black","black","#8e8e8e","#9a9a9a"]}, "legend": {"legendX": 304, "legendY": 17.5}},
       "strokeDash": {"field": "s", "type": "nominal", "scale": {"domain": ["No heat","120°C","130°C","140°C","150°C","160°C","170°C","180°C"], "range": [[1,0],[1,0],[5,3],[1.5,4],[6,2,1.5,2,1.5,2],[1,0],[1,0],[5,4]]}, "legend": {"legendX": 304, "legendY": 17.5}},
       "strokeWidth": {"field": "s", "type": "nominal", "scale": {"type": "ordinal", "domain": ["No heat","120°C","130°C","140°C","150°C","160°C","170°C","180°C"], "range": [2.2,1.1,1.1,1.2,1.1,1.5,1.2,1.2]}, "legend": {"legendX": 304, "legendY": 17.5}}
      }
     },
     {
      "data": {"name": "b"},
      "mark": {"type": "point", "opacity": 0},
      "encoding": {
       "x": {"field": "x", "type": "quantitative", "axis": {"orient": "top", "values": [0,1,2,3,4,5,6,7,8], "labels": false, "title": null}},
       "y": {"field": "y", "type": "quantitative", "axis": {"orient": "right", "values": [0,5,10,15,20,25,30,35,40], "labels": false, "title": null}}
      }
     },
     {
      "data": {"values": [{"x": 0.18, "y": 37.0, "t": "(b)"}, {"x": 1.64, "y": 37.0, "t": "Edge Crack(TD)"}]},
      "mark": {"type": "text", "align": "left", "baseline": "middle", "font": "Liberation Sans", "fontSize": 27, "color": "black"},
      "encoding": {"x": {"field": "x", "type": "quantitative", "axis": null}, "y": {"field": "y", "type": "quantitative", "axis": null}, "text": {"field": "t"}}
     },
     {
      "data": {"values": [{"x": 2.35, "y1": 34.9, "y2": 13.8}, {"x": 5.47, "y1": 34.1, "y2": 17.1}]},
      "mark": {"type": "rule", "color": "black", "strokeWidth": 1.3},
      "encoding": {"x": {"field": "x", "type": "quantitative", "axis": null}, "y": {"field": "y1", "type": "quantitative", "axis": null}, "y2": {"field": "y2"}}
     },
     {
      "data": {"values": [{"x": 2.35, "y": 13.8}, {"x": 5.47, "y": 17.1}]},
      "mark": {"type": "point", "shape": "M-0.55,-1L0.55,-1L0,1Z", "filled": true, "color": "black", "opacity": 1, "size": 256},
      "encoding": {"x": {"field": "x", "type": "quantitative", "axis": null}, "y": {"field": "y", "type": "quantitative", "axis": null}}
     }
    ],
    "resolve": {"axis": {"x": "independent", "y": "independent"}}
   },
   {
    "width": 421, "height": 303,
    "layer": [
     {
      "data": {"name": "c"},
      "mark": {"type": "line"},
      "encoding": {
       "x": {"field": "x", "type": "quantitative", "scale": {"domain": [0, 10], "nice": false, "zero": false}, "axis": {"orient": "bottom", "values": [0,1,2,3,4,5,6,7,8,9,10], "labelExpr": "datum.value % 2 === 0 ? datum.label : ''", "title": "Displacement(mm)"}},
       "y": {"field": "y", "type": "quantitative", "scale": {"domain": [0, 40], "nice": false}, "axis": {"orient": "left", "values": [0,5,10,15,20,25,30,35,40], "labelExpr": "datum.value % 10 === 0 ? datum.label : ''", "title": "Load(N)"}},
       "color": {"field": "s", "type": "nominal", "scale": {"domain": ["No heat","120°C","130°C","140°C","150°C","160°C","170°C","180°C"], "range": ["black","black","black","black","black","black","#8e8e8e","#9a9a9a"]}, "legend": {"legendX": 306, "legendY": 10.5}},
       "strokeDash": {"field": "s", "type": "nominal", "scale": {"domain": ["No heat","120°C","130°C","140°C","150°C","160°C","170°C","180°C"], "range": [[1,0],[1,0],[5,3],[1.5,4],[6,2,1.5,2,1.5,2],[1,0],[1,0],[5,4]]}, "legend": {"legendX": 306, "legendY": 10.5}},
       "strokeWidth": {"field": "s", "type": "nominal", "scale": {"type": "ordinal", "domain": ["No heat","120°C","130°C","140°C","150°C","160°C","170°C","180°C"], "range": [2.2,1.1,1.1,1.2,1.1,1.5,1.2,1.2]}, "legend": {"legendX": 306, "legendY": 10.5}}
      }
     },
     {
      "data": {"name": "c"},
      "mark": {"type": "point", "opacity": 0},
      "encoding": {
       "x": {"field": "x", "type": "quantitative", "axis": {"orient": "top", "values": [0,1,2,3,4,5,6,7,8,9,10], "labels": false, "title": null}},
       "y": {"field": "y", "type": "quantitative", "axis": {"orient": "right", "values": [0,5,10,15,20,25,30,35,40], "labels": false, "title": null}}
      }
     },
     {
      "data": {"values": [{"x": 0.24, "y": 36.9, "t": "(c)"}, {"x": 1.32, "y": 36.9, "t": "Center Crack(MD)"}]},
      "mark": {"type": "text", "align": "left", "baseline": "middle", "font": "Liberation Sans", "fontSize": 27, "color": "black"},
      "encoding": {"x": {"field": "x", "type": "quantitative", "axis": null}, "y": {"field": "y", "type": "quantitative", "axis": null}, "text": {"field": "t"}}
     }
    ],
    "resolve": {"axis": {"x": "independent", "y": "independent"}}
   },
   {
    "width": 429, "height": 303,
    "layer": [
     {
      "data": {"name": "a"},
      "mark": {"type": "line"},
      "encoding": {
       "x": {"field": "x", "type": "quantitative", "scale": {"domain": [0, 8], "nice": false, "zero": false}, "axis": {"orient": "bottom", "values": [0,1,2,3,4,5,6,7,8], "labelExpr": "datum.value % 2 === 0 ? datum.label : ''", "title": "Displacement(mm)"}},
       "y": {"field": "y", "type": "quantitative", "scale": {"domain": [0, 40], "nice": false}, "axis": {"orient": "left", "values": [0,5,10,15,20,25,30,35,40], "labelExpr": "datum.value % 10 === 0 ? datum.label : ''", "title": "Load(N)"}},
       "color": {"field": "s", "type": "nominal", "scale": {"domain": ["No heat","120°C","130°C","140°C","150°C","160°C","170°C","180°C"], "range": ["black","black","black","black","black","black","#8e8e8e","#9a9a9a"]}, "legend": {"legendX": 318, "legendY": 9}},
       "strokeDash": {"field": "s", "type": "nominal", "scale": {"domain": ["No heat","120°C","130°C","140°C","150°C","160°C","170°C","180°C"], "range": [[1,0],[1,0],[5,3],[1.5,4],[6,2,1.5,2,1.5,2],[1,0],[1,0],[5,4]]}, "legend": {"legendX": 318, "legendY": 9}},
       "strokeWidth": {"field": "s", "type": "nominal", "scale": {"type": "ordinal", "domain": ["No heat","120°C","130°C","140°C","150°C","160°C","170°C","180°C"], "range": [2.2,1.1,1.1,1.2,1.1,1.5,1.2,1.2]}, "legend": {"legendX": 318, "legendY": 9}}
      }
     },
     {
      "data": {"name": "a"},
      "mark": {"type": "point", "opacity": 0},
      "encoding": {
       "x": {"field": "x", "type": "quantitative", "axis": {"orient": "top", "values": [0,1,2,3,4,5,6,7,8], "labels": false, "title": null}},
       "y": {"field": "y", "type": "quantitative", "axis": {"orient": "right", "values": [0,5,10,15,20,25,30,35,40], "labels": false, "title": null}}
      }
     },
     {
      "data": {"values": [{"x": 0.23, "y": 37.3, "t": "(a)"}, {"x": 1.58, "y": 37.3, "t": "Center Crack(TD)"}]},
      "mark": {"type": "text", "align": "left", "baseline": "middle", "font": "Liberation Sans", "fontSize": 28, "color": "black"},
      "encoding": {"x": {"field": "x", "type": "quantitative", "axis": null}, "y": {"field": "y", "type": "quantitative", "axis": null}, "text": {"field": "t"}}
     },
     {
      "data": {"values": [{"x": 2.39, "y1": 35.3, "y2": 15.05}, {"x": 5.6, "y1": 36.2, "y2": 17.05}]},
      "mark": {"type": "rule", "color": "black", "strokeWidth": 1.3},
      "encoding": {"x": {"field": "x", "type": "quantitative", "axis": null}, "y": {"field": "y1", "type": "quantitative", "axis": null}, "y2": {"field": "y2"}}
     },
     {
      "data": {"values": [{"x": 2.39, "y": 15.05}, {"x": 5.6, "y": 17.05}]},
      "mark": {"type": "point", "shape": "M-0.55,-1L0.55,-1L0,1Z", "filled": true, "color": "black", "opacity": 1, "size": 256},
      "encoding": {"x": {"field": "x", "type": "quantitative", "axis": null}, "y": {"field": "y", "type": "quantitative", "axis": null}}
     }
    ],
    "resolve": {"axis": {"x": "independent", "y": "independent"}}
   },
   {
    "width": 412, "height": 298,
    "layer": [
     {
      "data": {"name": "d"},
      "mark": {"type": "line"},
      "encoding": {
       "x": {"field": "x", "type": "quantitative", "scale": {"domain": [0, 10], "nice": false, "zero": false}, "axis": {"orient": "bottom", "values": [0,1,2,3,4,5,6,7,8,9,10], "labelExpr": "datum.value % 2 === 0 ? datum.label : ''", "title": "Displacement(mm)"}},
       "y": {"field": "y", "type": "quantitative", "scale": {"domain": [0, 40], "nice": false}, "axis": {"orient": "left", "values": [0,5,10,15,20,25,30,35,40], "labelExpr": "datum.value % 10 === 0 ? datum.label : ''", "title": "Load(N)"}},
       "color": {"field": "s", "type": "nominal", "scale": {"domain": ["No Heat","120°C","130°C","140°C","150°C","160°C","170°C","180°C"], "range": ["black","black","black","black","black","black","#8e8e8e","#9a9a9a"]}, "legend": {"legendX": 289, "legendY": 11}},
       "strokeDash": {"field": "s", "type": "nominal", "scale": {"domain": ["No Heat","120°C","130°C","140°C","150°C","160°C","170°C","180°C"], "range": [[1,0],[1,0],[5,3],[1.5,4],[6,2,1.5,2,1.5,2],[1,0],[1,0],[5,4]]}, "legend": {"legendX": 289, "legendY": 11}},
       "strokeWidth": {"field": "s", "type": "nominal", "scale": {"type": "ordinal", "domain": ["No Heat","120°C","130°C","140°C","150°C","160°C","170°C","180°C"], "range": [2.2,1.1,1.1,1.2,1.1,1.5,1.2,1.2]}, "legend": {"legendX": 289, "legendY": 11}}
      }
     },
     {
      "data": {"name": "d"},
      "mark": {"type": "point", "opacity": 0},
      "encoding": {
       "x": {"field": "x", "type": "quantitative", "axis": {"orient": "top", "values": [0,1,2,3,4,5,6,7,8,9,10], "labels": false, "title": null}},
       "y": {"field": "y", "type": "quantitative", "axis": {"orient": "right", "values": [0,5,10,15,20,25,30,35,40], "labels": false, "title": null}}
      }
     },
     {
      "data": {"values": [{"x": 0.35, "y": 37.3, "t": "(d)"}, {"x": 1.39, "y": 37.3, "t": "Edge Crack(MD)"}]},
      "mark": {"type": "text", "align": "left", "baseline": "middle", "font": "Liberation Sans", "fontSize": 25, "color": "black"},
      "encoding": {"x": {"field": "x", "type": "quantitative", "axis": null}, "y": {"field": "y", "type": "quantitative", "axis": null}, "text": {"field": "t"}}
     }
    ],
    "resolve": {"axis": {"x": "independent", "y": "independent"}}
   }
]
}
